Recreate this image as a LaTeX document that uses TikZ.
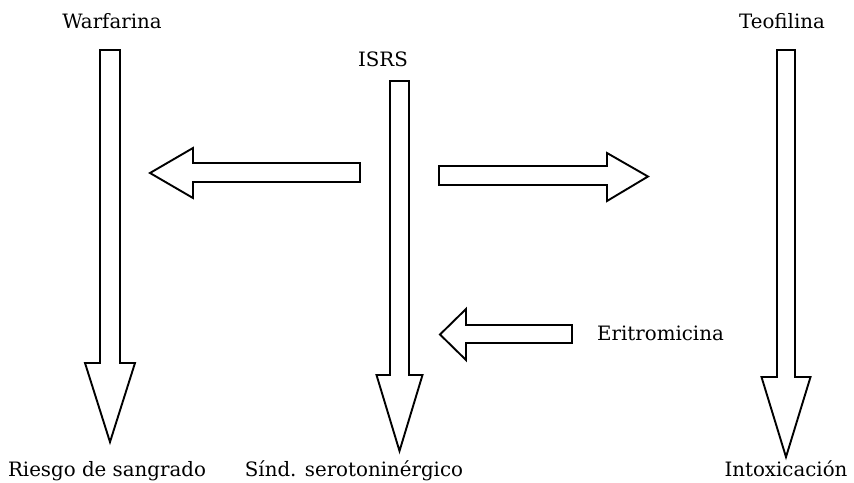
\documentclass[tikz,border=0pt]{standalone}
\usepackage{fontspec}
\setmainfont{DejaVu Serif}
\begin{document}
\begin{tikzpicture}[x=1pt,y=-1pt,
  blockarrow/.style={draw=black,line width=1.9pt,line join=miter,fill=white},
  lbl/.style={inner sep=0pt,anchor=base,font=\fontsize{19.8}{24}\selectfont}]
\useasboundingbox (0,0) rectangle (854,482);
% vertical arrows
\draw[blockarrow] (100,50) -- (120,50) -- (120,363) -- (135,363) -- (110,442) -- (85,363) -- (100,363) -- cycle;
\draw[blockarrow] (390,81) -- (409,81) -- (409,375) -- (422.5,375) -- (399.5,451) -- (376.5,375) -- (390,375) -- cycle;
\draw[blockarrow] (777,50) -- (795,50) -- (795,377) -- (810.5,377) -- (786,457) -- (761.5,377) -- (777,377) -- cycle;
% horizontal arrows
\draw[blockarrow] (360,163) -- (193,163) -- (193,148) -- (150,173) -- (193,198) -- (193,182) -- (360,182) -- cycle;
\draw[blockarrow] (439,166) -- (607,166) -- (607,153) -- (648,176.5) -- (607,201) -- (607,185) -- (439,185) -- cycle;
\draw[blockarrow] (572,325) -- (466,325) -- (466,309) -- (440,334.5) -- (466,360) -- (466,343) -- (572,343) -- cycle;
% labels
\node[lbl] (warf) at (112,28) {Warfarina};
\node[lbl] (isrs) at (383,66) {ISRS};
\node[lbl] (teof) at (782,28) {Teofilina};
\node[lbl] (ries) at (107,476) {Riesgo de sangrado};
\node[lbl] (sind) at (354,476) {Sínd. serotoninérgico};
\node[lbl] (intox) at (786,476) {Intoxicación};
\node[lbl,anchor=base west] (erit) at (597,340) {Eritromicina};
\end{tikzpicture}
\end{document}
